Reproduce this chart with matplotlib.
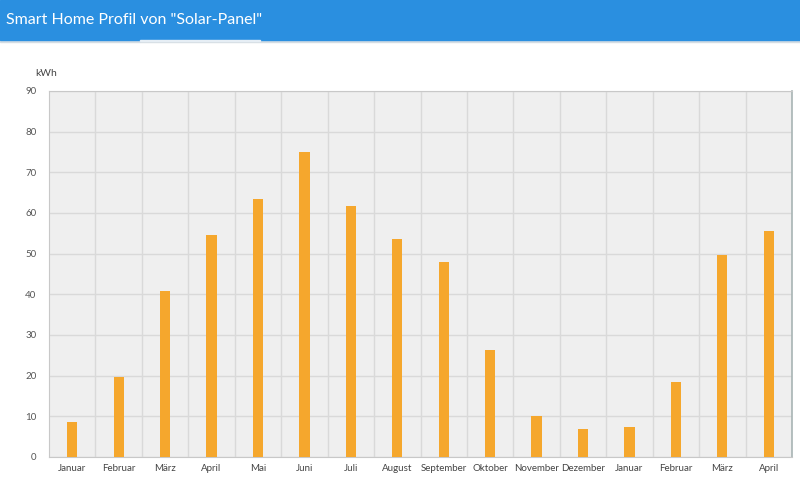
import matplotlib
matplotlib.use("Agg")
import matplotlib.pyplot as plt
from matplotlib.patches import Rectangle

# monthly yield of the solar panel
months = ["Januar", "Februar", "März", "April", "Mai", "Juni", "Juli", "August",
          "September", "Oktober", "November", "Dezember", "Januar", "Februar", "März", "April"]
kwh = [8.7, 19.7, 40.8, 54.6, 63.4, 75.0, 61.7, 53.6,
       47.9, 26.3, 10.1, 6.8, 7.3, 18.4, 49.7, 55.6]
y_ticks = [0, 10, 20, 30, 40, 50, 60, 70, 80, 90]

plt.rcParams['font.family'] = ['Lato', 'DejaVu Sans']

W, H = 800, 478
fig = plt.figure(figsize=(W / 100, H / 100), dpi=100)
fig.patch.set_facecolor("white")

# header bar
fig.patches.append(Rectangle((0, 1 - 42 / H), 1, 2 / H, transform=fig.transFigure,
                             color="#d5dde3", zorder=0))
fig.patches.append(Rectangle((0, 1 - 40 / H), 1, 40 / H, transform=fig.transFigure,
                             color="#2a8fe0", zorder=1))
fig.patches.append(Rectangle((140 / W, 1 - 41 / H), 120 / W, 1.5 / H, transform=fig.transFigure,
                             color="#e6eef5", zorder=2))
fig.text(6 / W, 1 - 20 / H, 'Smart Home Profil von "Solar-Panel"', color="white",
         fontsize=11.5, va="center", ha="left")

ax = fig.add_axes([49 / W, 1 - 457 / H, (792 - 49) / W, (457 - 91) / H])
ax.set_facecolor("#efefef")

x = list(range(len(months)))
ax.bar(x, kwh, width=0.22, color="#f5a72d", zorder=3)

ax.set_xlim(-0.5, len(months) - 0.5)
ax.set_ylim(0, 90)
ax.set_yticks(y_ticks)
ax.set_xticks(x)
ax.set_xticklabels(months)

# grid: vertical lines at category borders
ax.set_xticks([i - 0.5 for i in range(1, len(months))], minor=True)
ax.grid(axis="x", which="minor", color="#d9d9d9", linewidth=1, zorder=1)
ax.grid(axis="y", which="major", color="#d9d9d9", linewidth=1, zorder=1)
ax.tick_params(axis="x", which="both", length=0, pad=5, labelsize=7, labelcolor="#444444")
ax.tick_params(axis="y", length=0, pad=9, labelsize=7, labelcolor="#555555")

for side in ["left", "bottom", "top"]:
    ax.spines[side].set_color("#c8c8c8")
ax.spines["right"].set_color("#a8b4b4")
ax.spines["right"].set_linewidth(1.2)

fig.text(35 / W, 1 - 73 / H, "kWh", fontsize=7.5, color="#444444", va="center", ha="left")

fig.savefig("out.png", dpi=100)
